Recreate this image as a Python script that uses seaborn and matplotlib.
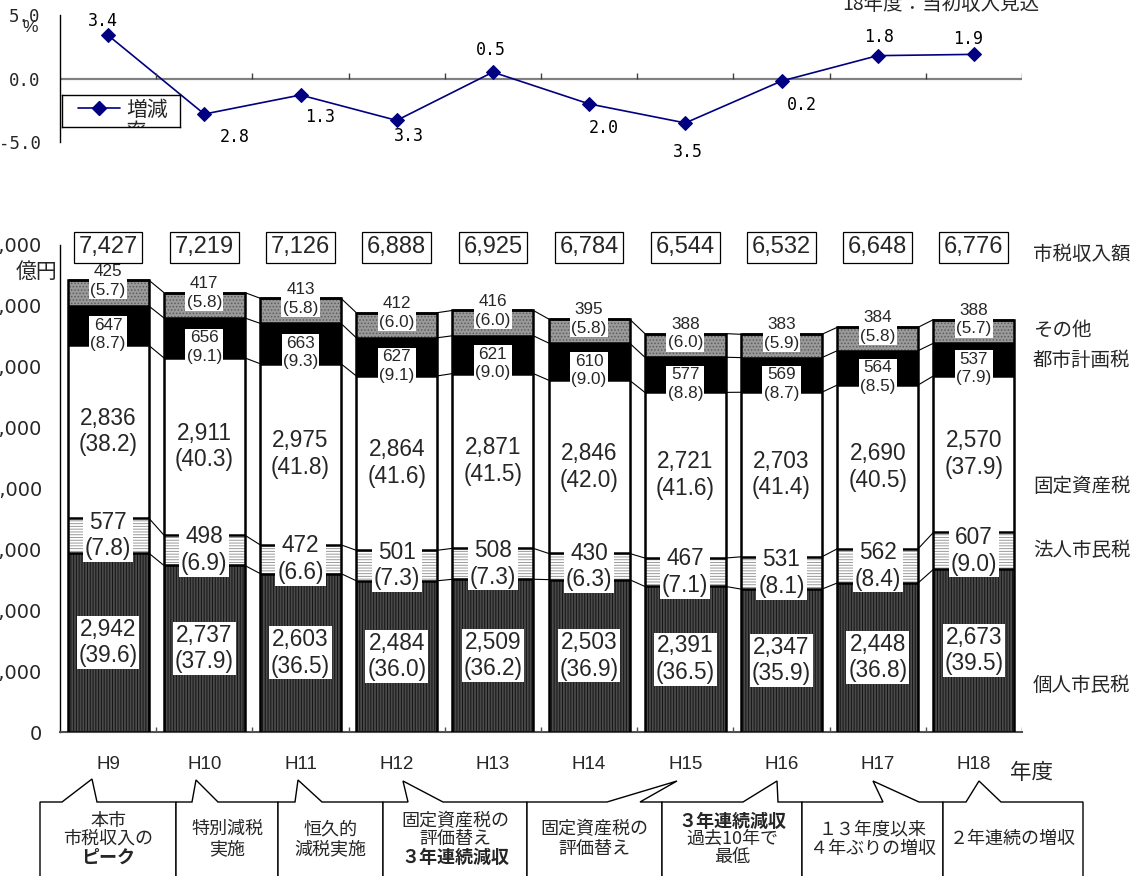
import numpy as np
import matplotlib
matplotlib.use("Agg")
import matplotlib.pyplot as plt
from matplotlib.patches import Rectangle, Polygon
import seaborn as sns

# ---- data -----------------------------------------------------------------
years = ["H9", "H10", "H11", "H12", "H13", "H14", "H15", "H16", "H17", "H18"]
growth_rate = [3.4, -2.8, -1.3, -3.3, 0.5, -2.0, -3.5, -0.2, 1.8, 1.9]

individual = [2942, 2737, 2603, 2484, 2509, 2503, 2391, 2347, 2448, 2673]
corporate = [577, 498, 472, 501, 508, 430, 467, 531, 562, 607]
property_tax = [2836, 2911, 2975, 2864, 2871, 2846, 2721, 2703, 2690, 2570]
city_planning = [647, 656, 663, 627, 621, 610, 577, 569, 564, 537]
other = [425, 417, 413, 412, 416, 395, 388, 383, 384, 388]
total = [7427, 7219, 7126, 6888, 6925, 6784, 6544, 6532, 6648, 6776]

share_individual = [39.6, 37.9, 36.5, 36.0, 36.2, 36.9, 36.5, 35.9, 36.8, 39.5]
share_corporate = [7.8, 6.9, 6.6, 7.3, 7.3, 6.3, 7.1, 8.1, 8.4, 9.0]
share_property = [38.2, 40.3, 41.8, 41.6, 41.5, 42.0, 41.6, 41.4, 40.5, 37.9]
share_city = [8.7, 9.1, 9.3, 9.1, 9.0, 9.0, 8.8, 8.7, 8.5, 7.9]
share_other = [5.7, 5.8, 5.8, 6.0, 6.0, 5.8, 6.0, 5.9, 5.8, 5.7]

series_names = ["個人市民税", "法人市民税", "固定資産税", "都市計画税", "その他"]

notes = [
    [("本市", False), ("市税収入の", False), ("ピーク", True)],
    [("特別減税", False), ("実施", False)],
    [("恒久的", False), ("減税実施", False)],
    [("固定資産税の", False), ("評価替え", False), ("３年連続減収", True)],
    [("固定資産税の", False), ("評価替え", False)],
    [("３年連続減収", True), ("過去10年で", False), ("最低", False)],
    [("１３年度以来", False), ("４年ぶりの増収", False)],
    [("２年連続の増収", False)],
]

# ---- style ----------------------------------------------------------------
sns.set_theme(style="white")
plt.rcParams["font.family"] = ["Liberation Sans", "Noto Sans CJK JP", "DejaVu Sans"]
plt.rcParams["hatch.linewidth"] = 0.7
JP = ["Noto Sans CJK JP", "DejaVu Sans"]
MONO = ["DejaVu Sans Mono", "Noto Sans CJK JP"]

W, H = 1144, 876
fig = plt.figure(figsize=(W / 100, H / 100), dpi=100)


def frect(left, top, right, bottom):
    return [left / W, 1 - bottom / H, (right - left) / W, (bottom - top) / H]


# ---- growth-rate line -----------------------------------------------------
ax_line = fig.add_axes(frect(60, 15, 1022, 142))
sns.lineplot(x=years, y=growth_rate, ax=ax_line, sort=False, color="#000080",
             lw=1.2, marker="D", markersize=7.5, markeredgecolor="#000080")
ax_line.set_xlim(-0.5, len(years) - 0.5)
ax_line.set_ylim(-5, 5)
ax_line.axhline(0, color="#808080", lw=1.6, zorder=1)
ax_line.vlines(np.arange(0.5, len(years), 1), 0, 0.4, color="#404040", lw=1)
for s in ["top", "right", "bottom"]:
    ax_line.spines[s].set_visible(False)
ax_line.spines["left"].set_color("black")
ax_line.spines["left"].set_linewidth(1)
ax_line.set_yticks([5, 0, -5])
ax_line.set_yticklabels(["5.0", "0.0", "-5.0"], family=MONO, fontsize=12.5)
ax_line.tick_params(axis="y", direction="out", length=5, width=1, color="black", pad=9)
ax_line.set_xticks([])
ax_line.set_xlabel("")
ax_line.set_ylabel("")
ax_line.patch.set_alpha(0)

label_offsets = [(-5, 14), (30, -23), (20, -22), (12, -16), (-2, 22),
                 (15, -24), (3, -29), (20, -24), (1, 19), (-6, 15)]
for i, (v, off) in enumerate(zip(growth_rate, label_offsets)):
    ax_line.annotate(f"{abs(v):.1f}", (i, v), xytext=off, textcoords="offset pixels",
                     ha="center", va="center", fontsize=12, family=MONO, color="black")

# legend box
ax_leg = fig.add_axes(frect(62, 95, 180, 127))
ax_leg.set_xlim(62, 180)
ax_leg.set_ylim(127, 95)
ax_leg.set_xticks([])
ax_leg.set_yticks([])
for s in ax_leg.spines.values():
    s.set_color("black")
    s.set_linewidth(1)
ax_leg.plot([78, 99, 120], [108, 108, 108], color="#000080", lw=1.2,
            marker="D", markersize=7.5, markevery=[1])
ax_leg.text(126, 98.5, "増減\n率", family=JP, fontsize=15, ha="left", va="top",
            linespacing=1.05, clip_on=True)

# ---- stacked revenue bars ---------------------------------------------------
ax_bar = fig.add_axes(frect(60, 245, 1022, 732))
layers = [individual, corporate, property_tax, city_planning, other]
cum = np.cumsum(np.array(layers), axis=0)  # cumulative tops per layer
fills = ["#4a4a4a", "white", "white", "black", "#9a9a9a"]
hatches = ["||||||", "------", "", "", "....."]
hatch_colors = ["#151515", "#9a9a9a", "white", "black", "#5c5c5c"]
bar_w = 0.84

for k in range(len(layers) - 1, -1, -1):
    before = len(ax_bar.patches)
    sns.barplot(x=years, y=cum[k], ax=ax_bar, width=bar_w, color=fills[k],
                saturation=1, linewidth=0, zorder=2)
    for p in ax_bar.patches[before:]:
        p.set_facecolor(fills[k])
        p.set_edgecolor(hatch_colors[k])
        p.set_linewidth(0)
        p.set_hatch(hatches[k])

bars = ax_bar.patches[:len(years)]
lefts = np.array([p.get_x() for p in bars])
rights = lefts + np.array([p.get_width() for p in bars])

for p in bars:
    ax_bar.add_patch(Rectangle((p.get_x(), 0), p.get_width(), p.get_height(),
                               fill=False, edgecolor="black", lw=1.8, zorder=4))
for k in range(len(layers)):
    ax_bar.hlines(cum[k], lefts, rights, color="black", lw=1.8, zorder=4)
    for i in range(len(years) - 1):
        ax_bar.plot([rights[i], lefts[i + 1]], [cum[k][i], cum[k][i + 1]],
                    color="black", lw=0.8, zorder=3)

ax_bar.set_xlim(-0.5, len(years) - 0.5)
ax_bar.set_ylim(0, 8000)
ax_bar.set_yticks(np.arange(0, 8001, 1000))
ax_bar.set_yticklabels([f"{v:,}" for v in range(0, 8001, 1000)], fontsize=14,
                       family=["DejaVu Sans"])
ax_bar.tick_params(axis="y", direction="out", length=5, width=1, color="black", pad=8)
ax_bar.tick_params(axis="x", length=0, pad=17, labelsize=13.5)
ax_bar.set_xlabel("")
ax_bar.set_ylabel("")
for s in ["top", "right"]:
    ax_bar.spines[s].set_visible(False)
ax_bar.spines["left"].set_color("black")
ax_bar.spines["left"].set_linewidth(1)
ax_bar.spines["bottom"].set_color("#505050")
ax_bar.spines["bottom"].set_linewidth(1.5)
ax_bar.vlines(np.arange(0.5, len(years), 1), 0, 85, color="#505050", lw=1, zorder=1)
ax_bar.patch.set_alpha(0)

shares = [share_individual, share_corporate, share_property, share_city, share_other]
# small labels for the two thin upper layers are nudged apart vertically (pixels)
nudges = [0, 0, 0, -9, 12]
for k in range(len(layers)):
    small = k >= 3
    for i in range(len(years)):
        mid = cum[k][i] - layers[k][i] / 2
        ax_bar.annotate(f"{layers[k][i]:,}\n({shares[k][i]:.1f})", (i, mid),
                        xytext=(0, nudges[k]), textcoords="offset pixels",
                        ha="center", va="center", fontsize=12.3 if small else 16.3,
                        linespacing=1.3 if small else 1.2, zorder=6,
                        bbox=dict(boxstyle="square,pad=0.08", fc="white", ec="none"))

for i, t in enumerate(total):
    ax_bar.text(i, 7960, f"{t:,}", ha="center", va="center", fontsize=17, zorder=6,
                bbox=dict(boxstyle="square,pad=0.2", fc="white", ec="black", lw=0.9))

# ---- free text and note callouts -------------------------------------------
ov = fig.add_axes([0, 0, 1, 1], zorder=-1)
ov.set_xlim(0, W)
ov.set_ylim(H, 0)
ov.axis("off")

ov.text(30, 28, "%", ha="center", va="center", fontsize=12.5)
ov.text(941, 4, "18年度：当初収入見込", ha="center", va="center", fontsize=14, family=JP)
ov.text(37, 272, "億円", ha="center", va="center", fontsize=15, family=JP)
ov.text(1010, 773, "年度", ha="left", va="center", fontsize=15.5, family=JP)

side_y = [685, 550, 487, 361, 330]
ov.text(1033, 254, "市税収入額", ha="left", va="center", fontsize=14, family=JP)
for name, y in zip(series_names, side_y):
    ov.text(1033, y, name, ha="left", va="center", fontsize=14, family=JP)

callouts = [
    (40, 176, 62, (92, 779), 97),
    (176, 278, 192, (196, 780), 218),
    (278, 383, 295, (298, 780), 322),
    (383, 527, 408, (403, 781), 443),
    (527, 662, 607, (677, 781), 640),
    (662, 802, 743, (777, 781), 778),
    (802, 943, 883, (873, 781), 919),
    (943, 1083, 966, (979, 781), 1001),
]
top = 802
for (left, right, b1, tip, b2), lines in zip(callouts, notes):
    pts = [(left, H + 10), (left, top), (b1, top), tip, (b2, top), (right, top), (right, H + 10)]
    ov.add_patch(Polygon(pts, closed=True, fc="white", ec="black", lw=1))
    n = len(lines)
    step = 18 if n == 3 else 19.5
    cx = (left + right) / 2
    for j, (txt, bold) in enumerate(lines):
        y = 839 + (j - (n - 1) / 2) * step
        ov.text(cx, y, txt, ha="center", va="center", fontsize=13, family=JP,
                fontweight="bold" if bold else "normal")

fig.savefig("out.png", dpi=100)
